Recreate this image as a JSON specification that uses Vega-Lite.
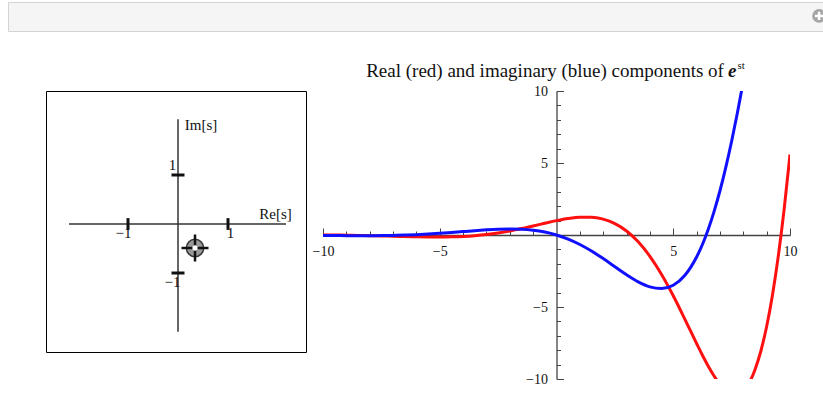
{
  "$schema": "https://vega.github.io/schema/vega-lite/v6.json",
  "padding": {"left": 7, "top": 1, "right": 0, "bottom": 0},
  "background": "white",
  "config": {"font": "Liberation Serif"},
  "bounds": "flush",
  "spacing": 60,
  "datasets": {
    "icon": [{"px": 0.994, "py": 0.52}],
    "axes": [
      {"re": -2.18, "re2": 2.16, "im": 0, "im2": 0},
      {"re": 0, "re2": 0, "im": -2.2, "im2": 2.14}
    ],
    "ticks": [
      {"re": 1, "re2": 1, "im": -0.12, "im2": 0.12},
      {"re": -1, "re2": -1, "im": -0.12, "im2": 0.12},
      {"re": -0.13, "re2": 0.13, "im": 1, "im2": 1},
      {"re": -0.13, "re2": 0.13, "im": -1, "im2": -1}
    ],
    "labels": [
      {"re": -1.09, "im": -0.18, "label": "−1"},
      {"re": 1.05, "im": -0.18, "label": "1"},
      {"re": -0.11, "im": 1.2, "label": "1"},
      {"re": -0.11, "im": -1.18, "label": "−1"},
      {"re": 0.46, "im": 2.03, "label": "Im[s]"},
      {"re": 1.95, "im": 0.21, "label": "Re[s]"}
    ],
    "s": [{"re": 0.34, "im": -0.49}],
    "re": [
      {"t": -10, "v": 0.0062}, {"t": -9.5, "v": -0.0023}, {"t": -9, "v": -0.014}, {"t": -8.5, "v": -0.0289},
      {"t": -8, "v": -0.0469}, {"t": -7.5, "v": -0.0672}, {"t": -7, "v": -0.0887}, {"t": -6.5, "v": -0.1096},
      {"t": -6, "v": -0.1274}, {"t": -5.5, "v": -0.1391}, {"t": -5, "v": -0.1407}, {"t": -4.5, "v": -0.1284},
      {"t": -4, "v": -0.0976}, {"t": -3.5, "v": -0.0438}, {"t": -3, "v": 0.0363}, {"t": -2.5, "v": 0.1448},
      {"t": -2, "v": 0.2822}, {"t": -1.5, "v": 0.4455}, {"t": -1, "v": 0.628}, {"t": -0.5, "v": 0.8184},
      {"t": 0, "v": 1}, {"t": 0.5, "v": 1.1499}, {"t": 1, "v": 1.2396}, {"t": 1.5, "v": 1.2355},
      {"t": 2, "v": 1.0995}, {"t": 2.5, "v": 0.7927}, {"t": 3, "v": 0.279}, {"t": 3.5, "v": -0.473},
      {"t": 4, "v": -1.4813}, {"t": 4.5, "v": -2.7376}, {"t": 5, "v": -4.216}, {"t": 5.5, "v": -5.8544},
      {"t": 6, "v": -7.5368}, {"t": 6.25, "v": -8.3469}, {"t": 6.5, "v": -9.1075}, {"t": 6.75, "v": -9.7885},
      {"t": 7, "v": -10.3587}, {"t": 7.25, "v": -10.7847}, {"t": 7.5, "v": -11.0282}, {"t": 7.75, "v": -11.0514},
      {"t": 8, "v": -10.8084}, {"t": 8.25, "v": -10.2716}, {"t": 8.5, "v": -9.3511}, {"t": 8.75, "v": -8.0729},
      {"t": 9, "v": -6.3556}, {"t": 9.25, "v": -4.1633}, {"t": 9.5, "v": -1.4485}, {"t": 9.75, "v": 1.7917},
      {"t": 10, "v": 5.5883}
    ],
    "im": [
      {"t": -10, "v": -0.0328}, {"t": -9.5, "v": -0.0395}, {"t": -9, "v": -0.0448}, {"t": -8.5, "v": -0.0475},
      {"t": -8, "v": -0.0463}, {"t": -7.5, "v": -0.0397}, {"t": -7, "v": -0.0263}, {"t": -6.5, "v": -0.0048},
      {"t": -6, "v": 0.0259}, {"t": -5.5, "v": 0.0665}, {"t": -5, "v": 0.1165}, {"t": -4.5, "v": 0.1744},
      {"t": -4, "v": 0.2374}, {"t": -3.5, "v": 0.3011}, {"t": -3, "v": 0.3588}, {"t": -2.5, "v": 0.4021},
      {"t": -2, "v": 0.4207}, {"t": -1.5, "v": 0.4026}, {"t": -1, "v": 0.335}, {"t": -0.5, "v": 0.2047},
      {"t": 0, "v": 0}, {"t": 0.5, "v": -0.2876}, {"t": 1, "v": -0.6612}, {"t": 1.5, "v": -1.1166},
      {"t": 2, "v": -1.6393}, {"t": 2.5, "v": -2.2014}, {"t": 3, "v": -2.7591}, {"t": 3.5, "v": -3.2529},
      {"t": 4, "v": -3.6036}, {"t": 4.5, "v": -3.7195}, {"t": 5, "v": -3.4913}, {"t": 5.5, "v": -2.7978},
      {"t": 6, "v": -1.5289}, {"t": 6.25, "v": -0.6615}, {"t": 6.5, "v": 0.3956}, {"t": 6.75, "v": 1.6385},
      {"t": 7, "v": 3.0729}, {"t": 7.25, "v": 4.6995}, {"t": 7.5, "v": 6.5124}, {"t": 7.75, "v": 8.504},
      {"t": 8, "v": 10.6596}, {"t": 8.25, "v": 12.9473}, {"t": 8.5, "v": 15.3735}, {"t": 8.75, "v": 17.8481},
      {"t": 9, "v": 20.3593}, {"t": 9.25, "v": 22.8434}, {"t": 9.5, "v": 25.2397}, {"t": 9.75, "v": 27.4651},
      {"t": 10, "v": 29.4397}
    ],
    "title": [
      {"t": 7.17, "v": 10.97, "label": "Real (red) and imaginary (blue) components of"},
      {"t": 7.34, "v": 10.97, "label": "e"},
      {"t": 7.75, "v": 11.55, "label": "st"}
    ]
  },
  "vconcat": [
    {
      "width": 816,
      "height": 29,
      "view": {"fill": "#f5f5f5", "stroke": "#d4d4d4"},
      "data": {"name": "icon"},
      "encoding": {
        "x": {"field": "px", "type": "quantitative", "axis": null, "scale": {"domain": [0, 1], "nice": false, "zero": false}},
        "y": {"field": "py", "type": "quantitative", "axis": null, "scale": {"domain": [0, 1], "nice": false, "zero": false}}
      },
      "layer": [
        {"mark": {"type": "point", "shape": "circle", "size": 190, "filled": true, "fill": "#a6a6a6", "fillOpacity": 1, "strokeWidth": 0}},
        {"mark": {"type": "point", "shape": "M-1,0H1M0,-1V1", "size": 70, "filled": false, "stroke": "white", "strokeWidth": 2.5, "opacity": 1}}
      ]
    },
    {
      "bounds": "flush",
      "spacing": 17,
      "hconcat": [
        {
          "width": 21,
          "height": 10,
          "view": {"stroke": null, "fill": null},
          "data": {"values": []},
          "mark": "point"
        },
        {
          "width": 260,
          "height": 261,
          "view": {"stroke": "black", "strokeWidth": 1, "fill": "white"},
          "encoding": {
            "x": {"field": "re", "type": "quantitative", "axis": null,
                  "scale": {"domain": [-2.64, 2.56], "nice": false, "zero": false}},
            "y": {"field": "im", "type": "quantitative", "axis": null,
                  "scale": {"domain": [-2.612, 2.714], "nice": false, "zero": false}}
          },
          "layer": [
            {
              "data": {"name": "axes"},
              "mark": {"type": "rule", "color": "#333333", "strokeWidth": 1.5},
              "encoding": {"x2": {"field": "re2"}, "y2": {"field": "im2"}}
            },
            {
              "data": {"name": "ticks"},
              "mark": {"type": "rule", "color": "#111111", "strokeWidth": 3},
              "encoding": {"x2": {"field": "re2"}, "y2": {"field": "im2"}}
            },
            {
              "data": {"name": "labels"},
              "mark": {"type": "text", "font": "Liberation Serif", "fontSize": 15, "color": "#111111", "align": "center", "baseline": "middle"},
              "encoding": {"text": {"field": "label"}}
            },
            {
              "data": {"name": "s"},
              "mark": {"type": "point", "shape": "circle", "size": 300, "filled": true, "fill": "#9a9a9a", "fillOpacity": 1, "stroke": "#3a3a3a", "strokeWidth": 1.5}
            },
            {
              "data": {"name": "s"},
              "mark": {"type": "point", "shape": "M-1,0H1M0,-1V1", "size": 729, "filled": false, "stroke": "#111111", "strokeWidth": 2.5, "opacity": 1}
            },
            {
              "data": {"name": "s"},
              "mark": {"type": "point", "shape": "circle", "size": 28, "filled": true, "fill": "white", "fillOpacity": 1, "strokeWidth": 0}
            }
          ]
        },
        {
          "width": 467,
          "height": 288,
          "view": {"stroke": null, "fill": "white"},
          "encoding": {
            "x": {"field": "t", "type": "quantitative",
                  "scale": {"domain": [-10, 10], "nice": false, "zero": false},
                  "axis": {"orient": "bottom", "offset": -144, "title": null, "grid": false,
                           "values": [-10, -9, -8, -7, -6, -5, -4, -3, -2, -1, 1, 2, 3, 4, 5, 6, 7, 8, 9, 10],
                           "labelExpr": "datum.value % 5 === 0 ? datum.label : ''",
                           "tickSize": {"condition": {"test": "datum.value % 5 === 0", "value": -7}, "value": -4},
                           "labelPadding": 16, "labelFlush": false, "labelOverlap": false,
                           "labelFont": "Liberation Serif", "labelFontSize": 14, "labelColor": "#111111",
                           "domainColor": "#444444", "domainWidth": 1.3, "tickColor": "#444444", "tickWidth": 1}},
            "y": {"field": "v", "type": "quantitative",
                  "scale": {"domain": [-10, 10], "nice": false, "zero": false},
                  "axis": {"orient": "left", "offset": -233.5, "title": null, "grid": false,
                           "values": [-10, -9, -8, -7, -6, -5, -4, -3, -2, -1, 1, 2, 3, 4, 5, 6, 7, 8, 9, 10],
                           "labelExpr": "datum.value % 5 === 0 ? datum.label : ''",
                           "tickSize": {"condition": {"test": "datum.value % 5 === 0", "value": -7}, "value": -4},
                           "labelPadding": 16, "labelFlush": false, "labelOverlap": false,
                           "labelFont": "Liberation Serif", "labelFontSize": 14, "labelColor": "#111111",
                           "domainColor": "#444444", "domainWidth": 1.3, "tickColor": "#444444", "tickWidth": 1}}
          },
          "layer": [
            {
              "data": {"name": "re"},
              "mark": {"type": "line", "clip": true, "color": "#ff1010", "strokeWidth": 3, "interpolate": "monotone"}
            },
            {
              "data": {"name": "im"},
              "mark": {"type": "line", "clip": true, "color": "#1010ff", "strokeWidth": 3, "interpolate": "monotone"}
            },
            {
              "data": {"name": "title"},
              "transform": [{"filter": "datum.label !== 'e' && datum.label !== 'st'"}],
              "mark": {"type": "text", "font": "Liberation Serif", "fontSize": 19, "color": "#111111", "align": "right", "baseline": "alphabetic"},
              "encoding": {"text": {"field": "label"}}
            },
            {
              "data": {"name": "title"},
              "transform": [{"filter": "datum.label === 'e'"}],
              "mark": {"type": "text", "font": "Liberation Serif", "fontSize": 19, "fontStyle": "italic", "fontWeight": "bold", "color": "#111111", "align": "left", "baseline": "alphabetic"},
              "encoding": {"text": {"field": "label"}}
            },
            {
              "data": {"name": "title"},
              "transform": [{"filter": "datum.label === 'st'"}],
              "mark": {"type": "text", "font": "Liberation Serif", "fontSize": 11, "color": "#111111", "align": "left", "baseline": "alphabetic"},
              "encoding": {"text": {"field": "label"}}
            }
          ]
        }
      ]
    }
  ]
}
